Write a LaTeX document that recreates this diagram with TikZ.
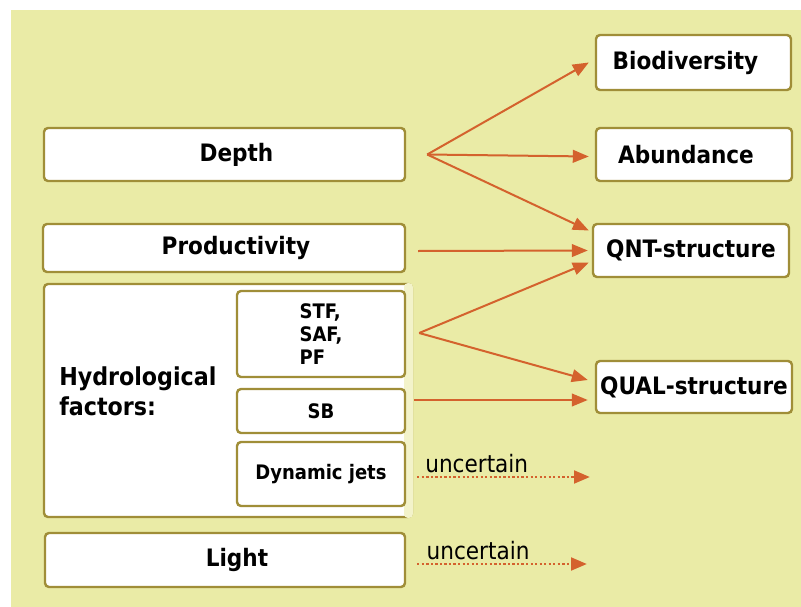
\documentclass[tikz,border=0pt]{standalone}
\usepackage{fontspec}
\setmainfont{DejaVu Sans Condensed}
\usetikzlibrary{arrows.meta,calc}

\definecolor{bgyellow}{HTML}{EAEBA6}
\definecolor{boxolive}{HTML}{A08E38}
\definecolor{arrorange}{HTML}{D4622D}

\begin{document}
\begin{tikzpicture}[
		x=0.75pt, y=-0.75pt,
		box/.style={rectangle, draw=boxolive, fill=white, line width=1.8pt,
				rounded corners=3pt, inner sep=0pt, font=\bfseries\fontsize{18}{22}\selectfont},
		lbox/.style={box, execute at begin node=\hspace*{18pt}},
		rbox/.style={box, execute at end node=\hspace*{12pt}},
		subbox/.style={box, minimum width=126pt, font=\bfseries\fontsize{15}{17.5}\selectfont},
		arr/.style={draw=arrorange, line width=1.5pt,
				-{Triangle[length=12pt,width=9.5pt]}},
		unsure/.style={arr, line width=2.2pt, dash pattern=on 1.7pt off 1.7pt},
		unclbl/.style={text=black, font=\fontsize{18}{22}\selectfont, inner sep=0pt, anchor=south west}
	]
	\useasboundingbox (0,0) rectangle (801,607);
	\fill[bgyellow] (11,10) rectangle (801,607);

	% left side
	\node[lbox, minimum width=270.75pt, minimum height=39.75pt] (depth) at (224.5,154.5) {Depth};
	\node[lbox, minimum width=271.5pt, minimum height=36pt] (prod) at (224,248) {Productivity};
	\node[box, minimum width=276pt, minimum height=174.75pt] (hydro) at (228,400.5) {};
	\fill[bgyellow!60!white, rounded corners=3pt] (404,283) rectangle (413,518);
	\node[align=left, inner sep=0pt, anchor=west, font=\bfseries\fontsize{18.5}{22.5}\selectfont]
		(hydtxt) at (59,391) {Hydrological\\factors:};
	\node[subbox, minimum height=64.5pt, align=left] (stf) at (321,334) {STF,\\SAF,\\PF};
	\node[subbox, minimum height=33pt] (sb) at (321,411) {SB};
	\node[subbox, minimum height=48pt] (jets) at (321,474) {Dynamic jets};
	\node[lbox, minimum width=270pt, minimum height=40.5pt] (light) at (225,560) {Light};

	% right side
	\node[rbox, minimum width=146.25pt, minimum height=41.25pt] (bio) at (693.5,62.5) {Biodiversity};
	\node[rbox, minimum width=147pt, minimum height=39.75pt] (abund) at (694,154.5) {Abundance};
	\node[box, minimum width=147pt, minimum height=39.75pt] (qnt) at (691,250.5) {QNT-structure};
	\node[box, minimum width=147pt, minimum height=39pt] (qual) at (694,387) {QUAL-structure};

	% effects
	\coordinate (dfan) at ($(depth.east)+(21,0)$);
	\coordinate (sfan) at ($(stf.east)+(13,-1)$);
	\draw[arr] (dfan) -- ($(bio.west)+(-6,0)$);
	\draw[arr] (dfan) -- ($(abund.west)+(-6,2)$);
	\draw[arr] (dfan) -- ($(qnt.west)+(-3,-20)$);
	\draw[arr] ($(prod.east)+(12,3)$) -- ($(qnt.west)+(-4,0)$);
	\draw[arr] (sfan) -- ($(qnt.west)+(-3,12)$);
	\draw[arr] (sfan) -- ($(qual.west)+(-7,-7)$);
	\draw[arr] ($(sb.east)+(8,-11)$) -- ($(qual.west)+(-7,13)$);

	% unknown effects
	\coordinate (jetsend) at (590,477);
	\coordinate (lightend) at (587,564);
	\draw[unsure] ($(jets.east)+(11,3)$) -- node[unclbl, pos=0, xshift=5pt, yshift=2pt] (unc1) {uncertain} (jetsend);
	\draw[unsure] ($(light.east)+(11,4)$) -- node[unclbl, pos=0, xshift=6pt, yshift=2pt] (unc2) {uncertain} (lightend);
\end{tikzpicture}
\end{document}
